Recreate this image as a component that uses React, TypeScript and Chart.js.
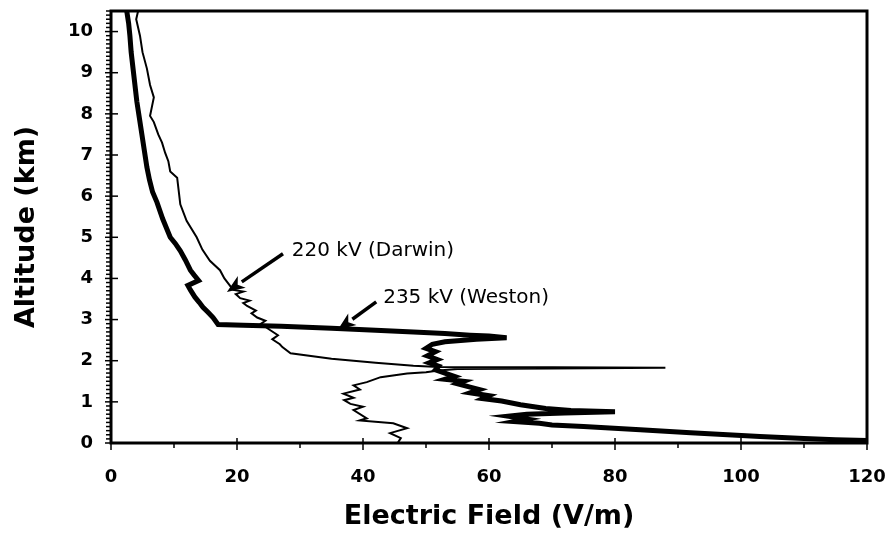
import React, { useEffect, useRef } from "react";
import { Chart, registerables } from "chart.js";

Chart.register(...registerables);

// 235 kV (Weston) – thick trace: electric field (V/m) and altitude (km)
const westonField = [
  2.5, 2.8, 3.0, 3.2, 3.5, 3.8, 4.1, 4.5, 4.9, 5.3, 5.7, 6.1, 6.6, 7.3, 8.2, 9.4, 10.2, 11.0, 11.8, 12.6,
  13.2, 13.9, 12.2, 12.6, 13.3, 14.0, 14.6, 15.4, 16.2, 17.0, 21.0, 27.0, 35.0, 42.0, 48.0, 53.0, 57.0,
  60.0, 62.8, 58.0, 53.0, 51.0, 50.0, 51.5, 50.2, 51.8, 50.5, 52.0, 51.5, 53.0, 54.5, 53.0, 56.0,
  55.0, 57.0, 58.5, 57.0, 60.0, 59.0, 62.0, 65.0, 69.0, 73.0, 80.0, 72.0, 66.0, 63.0, 66.0, 64.0, 68.0,
  70.0, 75.0, 84.0, 92.0, 103.0, 110.0, 115.0, 120.0,
];
const westonAlt = [
  10.5, 10.2, 9.9, 9.5, 9.1, 8.7, 8.3, 7.9, 7.5, 7.1, 6.7, 6.4, 6.1, 5.85, 5.45, 5.0, 4.85, 4.67, 4.45, 4.2,
  4.08, 3.95, 3.83, 3.72, 3.55, 3.42, 3.3, 3.18, 3.05, 2.88, 2.86, 2.84, 2.79, 2.74, 2.7, 2.66, 2.62,
  2.6, 2.56, 2.52, 2.46, 2.4, 2.3, 2.22, 2.12, 2.03, 1.95, 1.87, 1.78, 1.7, 1.62, 1.55, 1.5,
  1.44, 1.36, 1.3, 1.22, 1.15, 1.08, 1.02, 0.93, 0.84, 0.79, 0.76, 0.73, 0.7, 0.65, 0.58, 0.52, 0.48,
  0.44, 0.4, 0.32, 0.25, 0.16, 0.11, 0.08, 0.06,
];

// 220 kV (Darwin) – thin trace
const darwinField = [
  4.3, 4.0, 4.6, 5.0, 5.7, 6.2, 6.8, 6.2, 6.8, 7.5, 8.1, 8.6, 9.1, 9.4, 10.5, 11.0, 12.0, 13.6, 14.5,
  15.7, 17.3, 18.0, 19.0, 19.4, 21.0, 19.8, 20.5, 22.0, 21.0, 21.6, 23.0, 22.3, 23.2, 24.5, 23.8, 25.3,
  26.5, 25.6, 26.8, 27.2, 28.5, 35.0, 42.0, 48.0, 52.0, 70.0, 88.0, 70.0, 55.0, 52.0, 50.0, 47.0, 42.8,
  40.6, 38.5, 39.5, 36.9, 38.5, 37.0, 38.0, 40.0, 38.5, 40.6, 39.5, 44.8, 47.0, 44.3, 46.0, 45.5,
];
const darwinAlt = [
  10.5, 10.3, 9.9, 9.5, 9.1, 8.7, 8.4, 7.95, 7.8, 7.5, 7.3, 7.05, 6.85, 6.6, 6.45, 5.8, 5.4, 5.0, 4.7,
  4.43, 4.2, 4.0, 3.8, 3.72, 3.68, 3.62, 3.52, 3.46, 3.4, 3.33, 3.22, 3.15, 3.05, 2.97, 2.9, 2.74,
  2.62, 2.52, 2.4, 2.33, 2.18, 2.05, 1.95, 1.88, 1.85, 1.84, 1.83, 1.81, 1.8, 1.76, 1.72, 1.69, 1.6,
  1.48, 1.4, 1.3, 1.2, 1.1, 1.04, 0.95, 0.88, 0.8, 0.6, 0.55, 0.48, 0.36, 0.24, 0.12, 0.0,
];

const xTicks = [0, 20, 40, 60, 80, 100, 120];
const yTicks = [0, 1, 2, 3, 4, 5, 6, 7, 8, 9, 10];

const noteTexts = ["220 kV (Darwin)", "235 kV (Weston)"];
const noteTextAt = [
  [28.7, 4.67],
  [43.2, 3.53],
];
const arrowFrom = [
  [27.3, 4.6],
  [42.1, 3.43],
];
const arrowTo = [
  [18.4, 3.67],
  [36.0, 2.75],
];

const FONT = "'DejaVu Sans', sans-serif";

const zeroPad = (s: any) => {
  s.paddingTop = 0;
  s.paddingBottom = 0;
  s.paddingLeft = 0;
  s.paddingRight = 0;
};

const framePlugin = {
  id: "frame",
  afterDatasetsDraw(chart: any) {
    const { ctx, chartArea, scales } = chart;
    const { left, right, top, bottom } = chartArea;
    const xs = scales.x;
    const ys = scales.y;
    ctx.save();
    ctx.strokeStyle = "#000";
    ctx.lineWidth = 3;
    ctx.strokeRect(left, top, right - left, bottom - top);
    ctx.lineWidth = 1.5;
    for (let i = 0; i <= 105; i++) {
      const py = ys.getPixelForValue(i / 10);
      ctx.beginPath();
      if (i % 10 === 0) {
        ctx.moveTo(left - 6, py);
        ctx.lineTo(left + 7, py);
      } else {
        ctx.moveTo(left - 5, py);
        ctx.lineTo(left, py);
      }
      ctx.stroke();
    }
    for (let v = 0; v <= 120; v += 10) {
      const px = xs.getPixelForValue(v);
      ctx.beginPath();
      if (v % 20 === 0) {
        ctx.moveTo(px, bottom - 5);
        ctx.lineTo(px, bottom + 7);
      } else {
        ctx.moveTo(px, bottom);
        ctx.lineTo(px, bottom + 5);
      }
      ctx.stroke();
    }
    ctx.fillStyle = "#000";
    ctx.font = `20px ${FONT}`;
    ctx.textBaseline = "middle";
    ctx.textAlign = "left";
    noteTexts.forEach((t, i) => {
      ctx.fillText(t, xs.getPixelForValue(noteTextAt[i][0]), ys.getPixelForValue(noteTextAt[i][1]));
    });
    arrowFrom.forEach((f, i) => {
      const x1 = xs.getPixelForValue(f[0]);
      const y1 = ys.getPixelForValue(f[1]);
      const x2 = xs.getPixelForValue(arrowTo[i][0]);
      const y2 = ys.getPixelForValue(arrowTo[i][1]);
      const ang = Math.atan2(y2 - y1, x2 - x1);
      const hl = 18;
      const hw = 7;
      const bx = x2 - hl * Math.cos(ang);
      const by = y2 - hl * Math.sin(ang);
      ctx.lineWidth = 3.5;
      ctx.beginPath();
      ctx.moveTo(x1, y1);
      ctx.lineTo(bx, by);
      ctx.stroke();
      ctx.beginPath();
      ctx.moveTo(x2, y2);
      ctx.lineTo(bx + hw * Math.sin(ang), by - hw * Math.cos(ang));
      ctx.lineTo(bx + 5 * Math.cos(ang), by + 5 * Math.sin(ang));
      ctx.lineTo(bx - hw * Math.sin(ang), by + hw * Math.cos(ang));
      ctx.closePath();
      ctx.fill();
    });
    ctx.restore();
  },
};

export default function App() {
  const ref = useRef<HTMLCanvasElement | null>(null);
  useEffect(() => {
    document.body.style.margin = "0";
    const weston = westonField.map((x, i) => ({ x, y: westonAlt[i] }));
    const darwin = darwinField.map((x, i) => ({ x, y: darwinAlt[i] }));
    const chart = new Chart(ref.current as HTMLCanvasElement, {
      type: "scatter",
      data: {
        datasets: [
          {
            label: "235 kV (Weston)",
            data: weston,
            showLine: true,
            borderColor: "#000",
            borderWidth: 5,
            pointRadius: 0,
            tension: 0,
          },
          {
            label: "220 kV (Darwin)",
            data: darwin,
            showLine: true,
            borderColor: "#000",
            borderWidth: 2,
            pointRadius: 0,
            tension: 0,
          },
        ],
      },
      options: {
        animation: false,
        responsive: true,
        maintainAspectRatio: false,
        layout: { padding: { top: 11, right: 20, left: 0, bottom: 0 } },
        plugins: { legend: { display: false }, tooltip: { enabled: false } },
        scales: {
          x: {
            type: "linear",
            min: 0,
            max: 120,
            afterFit: (s: any) => {
              s.height = 91;
              zeroPad(s);
            },
            afterBuildTicks: (s: any) => {
              s.ticks = xTicks.map((v) => ({ value: v }));
            },
            grid: { display: false, drawTicks: false },
            border: { display: false },
            ticks: {
              color: "#000",
              padding: 24,
              font: { family: FONT, size: 18, weight: "bold" },
            },
            title: {
              display: true,
              text: "Electric Field (V/m)",
              color: "#000",
              font: { family: FONT, size: 27, weight: "bold" },
              padding: { top: 0, bottom: 1 },
            },
          },
          y: {
            type: "linear",
            min: 0,
            max: 10.5,
            afterFit: (s: any) => {
              s.width = 111;
              zeroPad(s);
            },
            afterBuildTicks: (s: any) => {
              s.ticks = yTicks.map((v) => ({ value: v }));
            },
            grid: { display: false, drawTicks: false },
            border: { display: false },
            ticks: {
              color: "#000",
              padding: 18,
              font: { family: FONT, size: 18, weight: "bold" },
            },
            title: {
              display: true,
              text: "Altitude (km)",
              color: "#000",
              font: { family: FONT, size: 27, weight: "bold" },
              padding: { top: 11, bottom: 0 },
            },
          },
        },
      },
      plugins: [framePlugin],
    });
    return () => chart.destroy();
  }, []);
  return (
    <div style={{ width: 887, height: 534, position: "relative", background: "#fff" }}>
      <canvas ref={ref} />
    </div>
  );
}
